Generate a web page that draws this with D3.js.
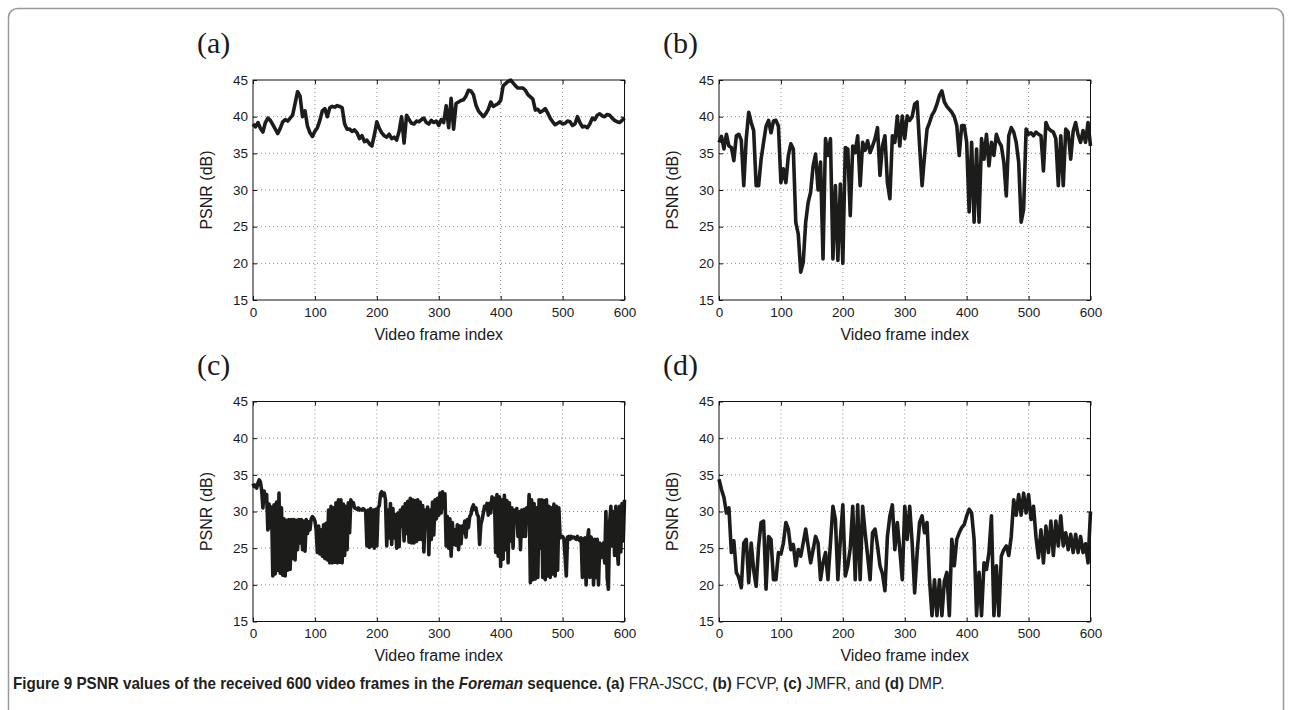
<!DOCTYPE html>
<html>
<head>
<meta charset="utf-8">
<script src="https://cdn.jsdelivr.net/npm/d3@7.9.0/dist/d3.min.js"></script>
<style>
  body { margin: 0; background: #fff; }
  svg { display: block; }
</style>
</head>
<body>
<svg id="fig" width="1292" height="710"></svg>
<script>
// PSNR per video frame (every 4th frame; JMFR every 2nd frame)
const frames4 = d3.range(0, 601, 4);
const frames2 = d3.range(0, 601, 2);

const psnrFRAJSCC = [
  39.0, 38.6, 39.2, 38.4, 37.9, 39.2, 39.8, 39.5, 38.9, 38.3,
  37.7, 38.4, 39.3, 39.6, 39.4, 39.8, 40.2, 41.8, 43.4, 42.8,
  40.0, 40.8, 38.7, 37.8, 37.3, 38.0, 38.5, 39.5, 40.8, 41.1,
  40.0, 41.2, 41.4, 41.3, 41.5, 41.4, 41.2, 39.0, 38.3, 38.3,
  38.0, 38.2, 37.8, 37.0, 37.4, 36.6, 36.8, 36.3, 36.0, 37.5,
  39.3, 38.4, 37.8, 37.4, 37.2, 37.6, 37.0, 37.2, 36.8, 38.0,
  40.0, 36.4, 40.2, 39.6, 39.1, 39.0, 39.4, 39.3, 39.6, 39.8,
  39.2, 39.0, 39.5, 39.2, 39.4, 38.8, 39.6, 39.2, 41.5, 38.5,
  42.5, 38.3, 41.8, 42.0, 42.2, 42.3, 42.8, 43.6, 43.5, 43.0,
  41.6, 40.8, 40.4, 40.0, 40.4, 41.0, 42.0, 41.4, 41.6, 41.8,
  42.2, 44.2, 44.5, 44.8, 45.0, 44.6, 44.2, 43.9, 43.9, 43.9,
  43.6, 43.0, 42.7, 42.4, 40.9, 41.0, 40.6, 40.8, 41.1, 40.5,
  39.8, 39.3, 38.9, 39.1, 39.3, 39.0, 39.1, 39.4, 39.3, 38.8,
  39.0, 40.0, 39.2, 38.6, 38.7, 38.5, 39.0, 39.8, 39.6, 40.2,
  40.4, 40.1, 40.0, 40.3, 40.2, 39.8, 39.5, 39.3, 39.2, 39.5,
  39.8
];

const psnrFCVP = [
  36.5, 37.3, 35.6, 37.6, 36.0, 35.8, 34.0, 37.4, 37.6, 36.8,
  30.6, 37.0, 40.6, 39.2, 38.1, 30.6, 30.6, 34.2, 36.5, 38.7,
  39.5, 37.8, 39.4, 39.5, 38.7, 31.0, 32.9, 31.0, 34.7, 36.3,
  35.6, 25.6, 24.0, 18.8, 20.1, 25.6, 28.3, 29.7, 33.3, 34.9,
  30.0, 33.8, 20.6, 37.0, 34.7, 37.0, 20.6, 30.6, 20.4, 30.8,
  20.0, 35.8, 35.6, 26.5, 36.0, 35.1, 37.4, 30.6, 36.5, 35.4,
  36.7, 35.1, 36.0, 37.0, 38.5, 32.0, 36.0, 37.4, 31.0, 28.8,
  37.4, 36.5, 40.1, 36.0, 40.1, 37.0, 40.1, 39.5, 40.0, 41.7,
  42.0, 36.0, 30.6, 34.7, 38.3, 39.2, 40.2, 40.8, 41.7, 42.9,
  43.5, 42.0, 41.4, 41.0, 40.6, 40.0, 38.8, 34.7, 38.8, 38.8,
  36.5, 27.0, 36.5, 25.6, 35.6, 25.6, 37.0, 34.2, 37.6, 33.3,
  36.5, 34.7, 37.6, 36.6, 36.0, 33.8, 29.2, 37.4, 38.5, 37.9,
  36.5, 33.8, 25.6, 27.4, 38.3, 37.6, 37.8, 37.4, 37.9, 37.6,
  37.4, 32.6, 39.2, 38.4, 38.1, 37.9, 37.0, 30.6, 37.4, 30.6,
  38.3, 37.9, 34.2, 38.0, 39.2, 37.5, 36.5, 38.1, 36.5, 39.2,
  36.0
];

const psnrJMFR = [
  33.8, 33.4, 33.6, 33.2, 33.9, 34.3, 34.0, 32.9, 30.5, 32.8,
  31.5, 32.3, 27.5, 31.0, 27.8, 30.6, 21.2, 30.9, 21.5, 31.3,
  22.0, 32.5, 21.6, 30.5, 21.3, 29.0, 21.2, 28.8, 22.0, 28.9,
  22.1, 28.9, 23.6, 28.9, 23.4, 28.8, 24.8, 28.9, 25.7, 28.9,
  24.8, 28.7, 24.6, 28.9, 27.0, 28.6, 27.5, 29.0, 29.3, 29.1,
  28.7, 27.5, 24.4, 28.0, 24.2, 27.5, 23.9, 28.2, 23.6, 28.4,
  23.4, 30.2, 23.0, 30.7, 23.0, 30.5, 23.1, 31.2, 23.0, 31.6,
  23.1, 31.6, 23.0, 31.0, 24.0, 30.7, 24.8, 31.2, 27.1, 31.6,
  30.8, 31.2, 30.5, 30.4, 30.3, 30.5, 30.2, 30.3, 30.2, 30.4,
  30.2, 30.0, 25.3, 30.2, 25.1, 30.4, 25.3, 30.2, 25.0, 30.3,
  25.3, 30.5, 30.8, 32.4, 32.7, 32.2, 32.5, 31.6, 25.3, 30.2,
  26.4, 31.1, 25.5, 30.4, 26.4, 29.6, 25.0, 29.8, 25.2, 30.2,
  28.0, 30.6, 26.0, 31.1, 27.0, 31.4, 25.8, 31.8, 25.7, 31.6,
  25.7, 31.5, 25.9, 31.6, 26.2, 31.3, 26.2, 30.8, 24.5, 30.2,
  28.4, 30.6, 24.1, 30.2, 26.2, 31.3, 26.8, 31.6, 29.0, 31.8,
  29.5, 32.5, 29.8, 32.7, 30.5, 32.4, 25.3, 29.3, 25.0, 29.0,
  23.9, 28.5, 25.5, 27.5, 25.4, 28.2, 24.8, 28.0, 25.6, 28.0,
  27.1, 28.7, 26.5, 28.9, 27.8, 29.3, 29.6, 30.5, 30.9, 30.3,
  30.5, 29.6, 29.3, 25.5, 28.2, 28.9, 29.8, 30.7, 30.4, 31.1,
  29.5, 31.1, 29.8, 32.0, 30.8, 31.8, 24.4, 32.3, 23.9, 32.0,
  22.5, 31.6, 23.5, 32.2, 24.8, 31.5, 23.0, 31.2, 26.0, 30.5,
  25.0, 30.2, 29.8, 30.4, 26.6, 30.0, 24.8, 30.2, 26.6, 30.3,
  26.6, 30.5, 28.4, 32.3, 20.3, 31.6, 20.7, 31.1, 20.8, 30.5,
  21.0, 31.6, 25.0, 31.6, 21.0, 31.5, 20.7, 31.6, 21.2, 30.7,
  21.0, 30.5, 21.5, 31.0, 21.2, 30.7, 22.0, 30.5, 26.4, 26.6,
  26.6, 26.3, 24.0, 21.2, 26.5, 26.6, 26.2, 26.6, 26.4, 26.5,
  26.4, 26.2, 26.6, 26.2, 26.0, 26.4, 21.0, 26.2, 26.4, 20.0,
  26.0, 27.5, 21.0, 26.5, 26.0, 20.0, 26.2, 21.0, 26.2, 20.0,
  25.7, 23.7, 25.0, 25.7, 23.0, 30.0, 21.0, 19.4, 28.5, 30.7,
  25.3, 30.0, 24.0, 30.7, 25.0, 22.8, 30.7, 24.5, 31.1, 26.0,
  31.6
];

const psnrDMP = [
  34.4, 33.0, 31.9, 29.8, 30.5, 24.4, 26.0, 21.7, 21.0, 19.6,
  25.7, 26.2, 20.3, 25.7, 22.0, 19.8, 25.3, 28.5, 28.7, 19.4,
  26.6, 26.2, 20.7, 20.7, 24.4, 24.2, 25.7, 28.5, 27.6, 24.8,
  25.5, 22.6, 24.8, 23.9, 25.7, 27.6, 25.3, 23.0, 24.8, 26.6,
  25.7, 20.7, 23.0, 24.4, 20.7, 25.7, 30.7, 28.9, 20.7, 26.2,
  30.9, 21.2, 22.6, 25.0, 30.7, 20.7, 30.9, 20.7, 30.7, 27.1,
  24.0, 20.7, 27.1, 27.6, 25.3, 22.6, 21.5, 19.2, 26.6, 29.4,
  30.9, 24.8, 28.5, 24.8, 20.7, 30.7, 26.2, 30.7, 25.7, 18.9,
  24.4, 28.5, 29.4, 27.1, 28.5, 20.7, 15.8, 20.7, 15.8, 20.7,
  15.8, 20.5, 21.7, 15.8, 26.2, 22.6, 26.2, 27.1, 27.8, 28.2,
  29.4, 30.3, 29.8, 26.2, 15.8, 21.7, 15.8, 23.0, 22.1, 24.4,
  29.4, 15.8, 22.6, 15.8, 23.9, 24.8, 25.3, 24.0, 26.6, 31.6,
  29.5, 32.3, 29.5, 32.5, 29.8, 32.3, 28.9, 30.7, 26.5, 23.7,
  27.5, 23.0, 28.0, 24.4, 28.7, 24.0, 28.7, 25.3, 29.4, 25.3,
  27.1, 24.8, 26.9, 24.4, 26.9, 24.4, 26.6, 24.4, 25.6, 23.0,
  30.0
];

const panelLabels = ["(a)", "(b)", "(c)", "(d)"];
const series = [psnrFRAJSCC, psnrFCVP, psnrJMFR, psnrDMP];
const seriesFrames = [frames4, frames4, frames2, frames4];
const xTicks = [0, 100, 200, 300, 400, 500, 600];
const yTicks = [15, 20, 25, 30, 35, 40, 45];

const svg = d3.select("#fig");

// outer frame of the journal figure
svg.append("rect")
  .attr("x", 8.5).attr("y", 8.5)
  .attr("width", 1275).attr("height", 740)
  .attr("rx", 9)
  .attr("fill", "none")
  .attr("stroke", "#9a9a9a")
  .attr("stroke-width", 1.5);

const W = 371.5, H = 220;
const lefts = [253, 719];
const tops = [80, 401.5];

const x = d3.scaleLinear().domain([0, 600]).range([0, W]);
const y = d3.scaleLinear().domain([15, 45]).range([H, 0]);

series.forEach((vals, k) => {
  const col = k % 2, row = Math.floor(k / 2);
  const fr = seriesFrames[k];
  const g = svg.append("g")
    .attr("transform", `translate(${lefts[col]},${tops[row]})`);

  // dotted grid
  g.append("g").selectAll("line")
    .data(xTicks.slice(1, -1))
    .join("line")
    .attr("x1", d => x(d)).attr("x2", d => x(d))
    .attr("y1", 0).attr("y2", H)
    .attr("stroke", "#6f6f6f").attr("stroke-width", 0.8)
    .attr("stroke-dasharray", "1,3");
  g.append("g").selectAll("line")
    .data(yTicks.slice(1, -1))
    .join("line")
    .attr("x1", 0).attr("x2", W)
    .attr("y1", d => y(d)).attr("y2", d => y(d))
    .attr("stroke", "#6f6f6f").attr("stroke-width", 0.8)
    .attr("stroke-dasharray", "1,3");

  const line = d3.line()
    .x((d, i) => x(fr[i]))
    .y(d => y(d));

  g.append("path")
    .datum(vals)
    .attr("d", line)
    .attr("fill", "none")
    .attr("stroke", "#1c1c1a")
    .attr("stroke-width", 3.6)
    .attr("stroke-linejoin", "round");

  // axes with inward ticks
  const axL = g.append("g")
    .call(d3.axisLeft(y).tickValues(yTicks).tickSize(-4).tickPadding(5));
  const axB = g.append("g").attr("transform", `translate(0,${H})`)
    .call(d3.axisBottom(x).tickValues(xTicks).tickSize(-4).tickPadding(7));
  const axR = g.append("g").attr("transform", `translate(${W},0)`)
    .call(d3.axisRight(y).tickValues(yTicks).tickSize(-4).tickFormat(""));
  const axT = g.append("g")
    .call(d3.axisTop(x).tickValues(xTicks).tickSize(-4).tickFormat(""));
  [axL, axB, axR, axT].forEach(a => {
    a.select(".domain").remove();
    a.selectAll("line").attr("stroke", "#111");
    a.selectAll("text")
      .attr("fill", "#1a1a1a")
      .style("font-family", "'Liberation Sans', Arial, sans-serif")
      .style("font-size", "13.5px");
  });

  g.append("rect")
    .attr("width", W).attr("height", H)
    .attr("fill", "none").attr("stroke", "#111").attr("stroke-width", 1);

  g.append("text")
    .attr("transform", `translate(-41,${H / 2}) rotate(-90)`)
    .attr("text-anchor", "middle")
    .style("font-family", "'Liberation Sans', Arial, sans-serif")
    .style("font-size", "16px")
    .attr("fill", "#1a1a1a")
    .text("PSNR (dB)");

  g.append("text")
    .attr("x", W / 2).attr("y", H + 39.5)
    .attr("text-anchor", "middle")
    .style("font-family", "'Liberation Sans', Arial, sans-serif")
    .style("font-size", "16px")
    .attr("fill", "#1a1a1a")
    .text("Video frame index");

  g.append("text")
    .attr("x", -56).attr("y", -27)
    .style("font-family", "'Liberation Serif', 'Times New Roman', serif")
    .style("font-size", "30px")
    .attr("fill", "#1a1a1a")
    .text(panelLabels[k]);
});

// caption, squeezed to the condensed width of the original
const cap = svg.append("text")
  .attr("x", 13).attr("y", 689)
  .style("font-family", "'Liberation Sans Narrow', 'Liberation Sans', Arial, sans-serif")
  .style("font-size", "16px")
  .attr("fill", "#231f20");

const capParts = [
  ["Figure 9 PSNR values of the received 600 video frames in the ", "bold", "normal"],
  ["Foreman", "bold", "italic"],
  [" sequence. ", "bold", "normal"],
  ["(a)", "bold", "normal"],
  [" FRA-JSCC, ", "normal", "normal"],
  ["(b)", "bold", "normal"],
  [" FCVP, ", "normal", "normal"],
  ["(c)", "bold", "normal"],
  [" JMFR, and ", "normal", "normal"],
  ["(d)", "bold", "normal"],
  [" DMP.", "normal", "normal"]
];
capParts.forEach(p => {
  cap.append("tspan")
    .style("font-weight", p[1])
    .style("font-style", p[2])
    .text(p[0]);
});
const capW = cap.node().getComputedTextLength();
const targetW = 932;
cap.attr("transform", `translate(13,0) scale(${targetW / capW},1) translate(-13,0)`);
</script>
</body>
</html>
